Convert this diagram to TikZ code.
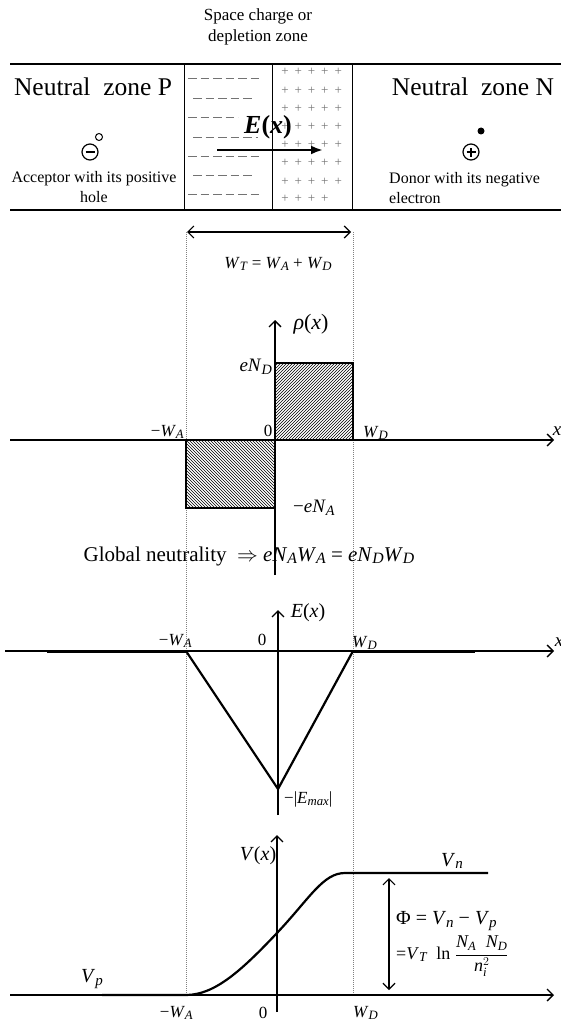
\documentclass[tikz,border=0pt]{standalone}
\usepackage{amsmath}
\usepackage{graphicx}
\usepackage{fontspec}
\setmainfont{Liberation Serif}
\usetikzlibrary{patterns,arrows.meta}
\newcommand\sub[1]{\raisebox{-0.3ex}{\scalebox{0.75}{\textit{#1}}}}
\newcommand\fs[1]{\fontsize{#1pt}{\dimexpr #1pt*6/5\relax}\selectfont}
\tikzset{
  ax/.style={line width=1.3pt,-{Straight Barb[length=6pt,width=12pt]}},
  dbl/.style={line width=1.2pt,{Straight Barb[length=6pt,width=12pt]}-{Straight Barb[length=6pt,width=12pt]}},
  guide/.style={gray,line width=0.5pt,dash pattern=on 1pt off 1pt},
  curve/.style={line width=2.2pt},
  lbl/.style={inner sep=0pt,font=\fs{17}},
  big/.style={inner sep=0pt,font=\fs{25.5}},
  small/.style={inner sep=0pt,font=\fs{16}},
  minusrow/.style={black!55,line width=0.7pt,dash pattern=on 8.5pt off 4pt},
  plussign/.style={black!55,inner sep=0pt,font=\fs{13}},
}
\begin{document}
\begin{tikzpicture}[x=1pt,y=-1pt]
\useasboundingbox (0,0) rectangle (561,1022);
% ---------- top band ----------
\node[align=center,inner sep=0pt,font=\fs{17}] (title) at (258,27) {Space charge or\\depletion zone};
\draw[line width=1.4pt] (10,64) -- (561,64);
\draw[line width=1.4pt] (10,210) -- (561,210);
\draw[line width=1pt] (184,64) rectangle (272,210);
\draw[line width=1pt] (272,64) rectangle (352,210);
% minus rows
\draw[minusrow] (188,78) -- (262,78);
\draw[minusrow] (193,98) -- (252,98);
\draw[minusrow] (188,117) -- (238,117);
\draw[minusrow] (193,137) -- (258,137);
\draw[minusrow] (188,156) -- (262,156);
\draw[minusrow] (193,175) -- (252,175);
\draw[minusrow] (188,194) -- (262,194);
% plus rows
\foreach \y in {72,91,109,127,145,163,182}{
  \foreach \x in {285,298.3,311.6,324.9,338.2}{
    \node[plussign] at (\x,\y) {+};
  }
}
\foreach \x in {285,298.3,311.6,324.9}{\node[plussign] at (\x,199) {+};}
\node[big] (nzp) at (93,87) {Neutral\ \ zone P};
\node[big] (nzn) at (473,87) {Neutral\ \ zone N};
\node[circle,draw,line width=1.2pt,minimum size=16pt,inner sep=0pt] (acc) at (90,152) {};
\draw[line width=1.6pt] ([xshift=-4.5pt]acc.center) -- ([xshift=4.5pt]acc.center);
\node[circle,draw,line width=1pt,minimum size=7pt,inner sep=0pt] (hole) at (99,137) {};
\node[circle,draw,line width=1.2pt,minimum size=16pt,inner sep=0pt] (don) at (471,152) {};
\draw[line width=1.6pt] ([xshift=-4.5pt]don.center) -- ([xshift=4.5pt]don.center);
\draw[line width=1.6pt] ([yshift=-4.5pt]don.center) -- ([yshift=4.5pt]don.center);
\node[circle,fill,minimum size=7pt,inner sep=0pt] (elec) at (481,131) {};
\node[small,align=center] (acctxt) at (94,187) {Acceptor with its positive\\hole};
\node[small,align=left,anchor=west] (dontxt) at (389,188) {Donor with its negative\\electron};
\node[inner sep=0pt,font=\fs{26}] (Elab) at (268,127) {\textbf{\textit{E}(\textit{x})}};
\coordinate (ea) at (217,150);
\coordinate (eb) at (323,150);
\draw[line width=2.6pt,-{Latex[length=12pt,width=9pt]}] (ea) -- (eb);
% ---------- width arrow and guides ----------
\coordinate (wa) at (187,232);
\coordinate (wb) at (351,232);
\draw[dbl] (wa) -- (wb);
\node[lbl] (wt) at (278,264) {\textit{W}\sub{T} = \textit{W}\sub{A} + \textit{W}\sub{D}};
\coordinate (g1t) at (186,232); \coordinate (g1b) at (186,995);
\coordinate (g2t) at (353,232); \coordinate (g2b) at (353,995);
\draw[guide] (g1t) -- (g1b);
\draw[guide] (g2t) -- (g2b);
% ---------- rho(x) ----------
\draw[line width=1.4pt,pattern=north east lines] (275,440) rectangle (353,363);
\draw[line width=1.4pt,pattern=north west lines] (186,440) rectangle (275,508);
\coordinate (r0) at (275,575); \coordinate (r1) at (275,320);
\draw[ax] (r0) -- (r1);
\coordinate (rx0) at (10,440); \coordinate (rx1) at (554,440);
\draw[ax] (rx0) -- (rx1);
\node[inner sep=0pt,font=\fs{22}] (rho) at (311,324) {\textit{ρ}(\textit{x})};
\node[lbl,font=\fs{19},anchor=east] (end) at (272,367) {\textit{eN}\sub{D}};
\node[lbl,anchor=east] (rwa) at (184,432) {−\textit{W}\sub{A}};
\node[lbl] (r0l) at (268,431) {0};
\node[lbl,anchor=west] (rwd) at (363,433) {\textit{W}\sub{D}};
\node[lbl,font=\fs{19}] (rxl) at (557,431) {\textit{x}};
\node[lbl,font=\fs{19},anchor=west] (ena) at (293,508) {−\textit{eN}\sub{A}};
\node[inner sep=0pt,font=\fs{21}] (glob) at (249,556) {Global neutrality \ $\Rightarrow$ \textit{eN}\sub{A}\textit{W}\sub{A} = \textit{eN}\sub{D}\textit{W}\sub{D}};
% ---------- E(x) ----------
\coordinate (e0) at (278,815); \coordinate (e1) at (278,610);
\draw[ax] (e0) -- (e1);
\coordinate (ex0) at (5,651); \coordinate (ex1) at (554,651);
\draw[ax] (ex0) -- (ex1);
\draw[curve] (47,652) -- (186,652);
\draw[curve] (353,652) -- (475,652);
\coordinate (ea1) at (186,651); \coordinate (emin) at (278,789); \coordinate (ea2) at (353,651);
\draw[curve,line join=miter] (ea1) -- (emin) -- (ea2);
\node[inner sep=0pt,font=\fs{20}] (El) at (308,613) {\textit{E}(\textit{x})};
\node[lbl,anchor=east] (ewa) at (192,641) {−\textit{W}\sub{A}};
\node[lbl] (e0l) at (262,640) {0};
\node[lbl,anchor=west] (ewd) at (352,643) {\textit{W}\sub{D}};
\node[lbl,font=\fs{19}] (exl) at (559,642) {\textit{x}};
\node[lbl,anchor=west] (emax) at (284,799) {−|\textit{E}\sub{max}|};
% ---------- V(x) ----------
\coordinate (v0) at (277,1012); \coordinate (v1) at (277,835);
\draw[ax] (v0) -- (v1);
\coordinate (vx0) at (10,995); \coordinate (vx1) at (554,995);
\draw[ax] (vx0) -- (vx1);
\draw[curve] (102,995) -- (186,995)
  .. controls (215,995) and (242,970) .. (277,933)
  .. controls (310,898) and (323,873) .. (345,873) -- (488,873);
\coordinate (pa) at (389,878); \coordinate (pb) at (389,990);
\draw[dbl] (pa) -- (pb);
\node[inner sep=0pt,font=\fs{20}] (Vl) at (258,856) {\textit{V}(\textit{x})};
\node[inner sep=0pt,font=\fs{20}] (Vp) at (92,979) {\textit{V}\sub{p}};
\node[inner sep=0pt,font=\fs{20}] (Vn) at (452,861) {\textit{V}\sub{n}};
\node[inner sep=0pt,font=\fs{20},anchor=west] (phi) at (396,921) {Φ = \textit{V}\sub{n} − \textit{V}\sub{p}};
\node[inner sep=0pt,font=\fs{18},anchor=west] (phi2) at (396,956) {=\textit{V}\sub{T} \ ln $\dfrac{\textit{N}_{\textit{A}}\;\;\textit{N}_{\textit{D}}}{\textit{n}_{\textit{i}}^{2}}$};
\node[lbl,anchor=east] (vwa) at (193,1013) {−\textit{W}\sub{A}};
\node[lbl] (v0l) at (263,1013) {0};
\node[lbl,anchor=west] (vwd) at (353,1013) {\textit{W}\sub{D}};
\end{tikzpicture}
\end{document}
